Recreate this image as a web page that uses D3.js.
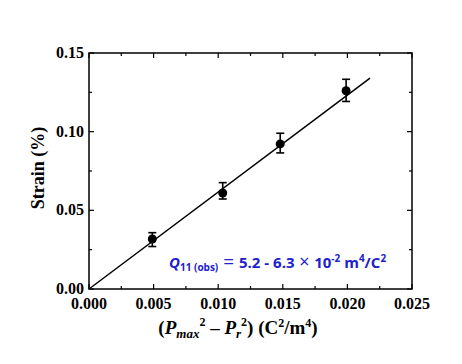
<!DOCTYPE html>
<html><head><meta charset="utf-8">
<script src="https://cdn.jsdelivr.net/npm/d3@7"></script>
<style>body{margin:0;background:#fff}svg{display:block}</style>
</head><body>
<svg id="c" width="462" height="364"></svg>
<script>
const xVals = [0.0049, 0.01035, 0.0148, 0.0199];
const yVals = [0.0318, 0.0610, 0.0922, 0.1260];
const yErrLo = [0.0270, 0.0572, 0.0865, 0.1192];
const yErrHi = [0.0358, 0.0676, 0.0990, 0.1333];
const fitX = [0, 0.02175];
const fitY = [0, 0.1340];
const xTicks = [0, 0.005, 0.010, 0.015, 0.020, 0.025];
const yTicks = [0, 0.05, 0.10, 0.15];

const svg = d3.select("#c");
const L = 89, R = 412, T = 53, B = 289;
const x = d3.scaleLinear().domain([0, 0.025]).range([L, R]);
const y = d3.scaleLinear().domain([0, 0.15]).range([B, T]);
const serif = "'Liberation Serif','Times New Roman',serif";

svg.append("rect").attr("x", L).attr("y", T).attr("width", R - L).attr("height", B - T)
  .attr("fill", "none").attr("stroke", "#000").attr("stroke-width", 1.5);

const xMinor = d3.range(0.0025, 0.025, 0.005);
const yMinor = d3.range(0.025, 0.15, 0.05);
const g = svg.append("g").attr("stroke", "#000").attr("stroke-width", 1.2);
xTicks.forEach(v => { g.append("line").attr("x1", x(v)).attr("x2", x(v)).attr("y1", B).attr("y2", B - 5);
  g.append("line").attr("x1", x(v)).attr("x2", x(v)).attr("y1", T).attr("y2", T + 5); });
xMinor.forEach(v => { g.append("line").attr("x1", x(v)).attr("x2", x(v)).attr("y1", B).attr("y2", B - 3);
  g.append("line").attr("x1", x(v)).attr("x2", x(v)).attr("y1", T).attr("y2", T + 3); });
yTicks.forEach(v => { g.append("line").attr("x1", L).attr("x2", L + 5).attr("y1", y(v)).attr("y2", y(v));
  g.append("line").attr("x1", R).attr("x2", R - 5).attr("y1", y(v)).attr("y2", y(v)); });
yMinor.forEach(v => { g.append("line").attr("x1", L).attr("x2", L + 3).attr("y1", y(v)).attr("y2", y(v));
  g.append("line").attr("x1", R).attr("x2", R - 3).attr("y1", y(v)).attr("y2", y(v)); });

svg.selectAll(".xt").data(xTicks).enter().append("text")
  .attr("x", d => x(d)).attr("y", 309).attr("text-anchor", "middle")
  .attr("font-family", serif).attr("font-weight", "bold").attr("font-size", 16)
  .text(d => d3.format(".3f")(d));
svg.selectAll(".yt").data(yTicks).enter().append("text")
  .attr("x", 84).attr("y", d => y(d) + 5).attr("text-anchor", "end")
  .attr("font-family", serif).attr("font-weight", "bold").attr("font-size", 16)
  .text(d => d3.format(".2f")(d));

// fit line
svg.append("line").attr("x1", x(fitX[0])).attr("y1", y(fitY[0])).attr("x2", x(fitX[1])).attr("y2", y(fitY[1]))
  .attr("stroke", "#000").attr("stroke-width", 1.5);

// error bars
const eb = svg.append("g").attr("stroke", "#000").attr("stroke-width", 1.6);
xVals.forEach((xv, i) => {
  eb.append("line").attr("x1", x(xv)).attr("x2", x(xv)).attr("y1", y(yErrLo[i])).attr("y2", y(yErrHi[i]));
  eb.append("line").attr("x1", x(xv) - 4).attr("x2", x(xv) + 4).attr("y1", y(yErrLo[i])).attr("y2", y(yErrLo[i]));
  eb.append("line").attr("x1", x(xv) - 4).attr("x2", x(xv) + 4).attr("y1", y(yErrHi[i])).attr("y2", y(yErrHi[i]));
});
svg.selectAll(".pt").data(xVals).enter().append("circle")
  .attr("cx", d => x(d)).attr("cy", (d, i) => y(yVals[i])).attr("r", 4.5).attr("fill", "#000");

// axis titles
svg.append("text").attr("transform", "translate(44,168) rotate(-90)").attr("text-anchor", "middle")
  .attr("font-family", serif).attr("font-weight", "bold").attr("font-size", 18).text("Strain (%)");

const xl = svg.append("text").attr("x", 238).attr("y", 334).attr("text-anchor", "middle")
  .attr("font-family", serif).attr("font-weight", "bold").attr("font-size", 19);
xl.append("tspan").text("(");
xl.append("tspan").attr("font-style", "italic").text("P");
xl.append("tspan").attr("font-style", "italic").attr("font-size", 13).attr("dy", 4).text("max");
xl.append("tspan").attr("font-size", 12).attr("dy", -12).text("2");
xl.append("tspan").attr("dy", 8).text(" \u2013 ");
xl.append("tspan").attr("font-style", "italic").text("P");
xl.append("tspan").attr("font-style", "italic").attr("font-size", 13).attr("dy", 4).text("r");
xl.append("tspan").attr("font-size", 12).attr("dy", -12).text("2");
xl.append("tspan").attr("dy", 8).text(") (C");
xl.append("tspan").attr("font-size", 12).attr("dy", -7).text("2");
xl.append("tspan").attr("dy", 7).text("/m");
xl.append("tspan").attr("font-size", 12).attr("dy", -7).text("4");
xl.append("tspan").attr("dy", 7).text(")");

// annotation
const sans = "'Open Sans','Liberation Sans',sans-serif";
const an = svg.append("text").attr("x", 169).attr("y", 268)
  .attr("font-family", sans).attr("font-weight", "bold").attr("font-size", 15).attr("fill", "#2020cc");
an.append("tspan").attr("font-style", "italic").text("Q");
an.append("tspan").attr("font-size", 10).attr("dy", 3).text("11 (obs)");
an.append("tspan").attr("dy", -3).attr("font-size", 19).attr("font-weight", "normal").text(" = ");
an.append("tspan").text("5.2 - 6.3");
an.append("tspan").attr("font-size", 18).attr("font-weight", "normal").text(" \u00D7 ");
an.append("tspan").text("10");
an.append("tspan").attr("font-size", 10).attr("dy", -6).text("-2");
an.append("tspan").attr("dy", 6).text(" m");
an.append("tspan").attr("font-size", 10).attr("dy", -6).text("4");
an.append("tspan").attr("dy", 6).text("/C");
an.append("tspan").attr("font-size", 10).attr("dy", -6).text("2");
</script>
</body></html>
